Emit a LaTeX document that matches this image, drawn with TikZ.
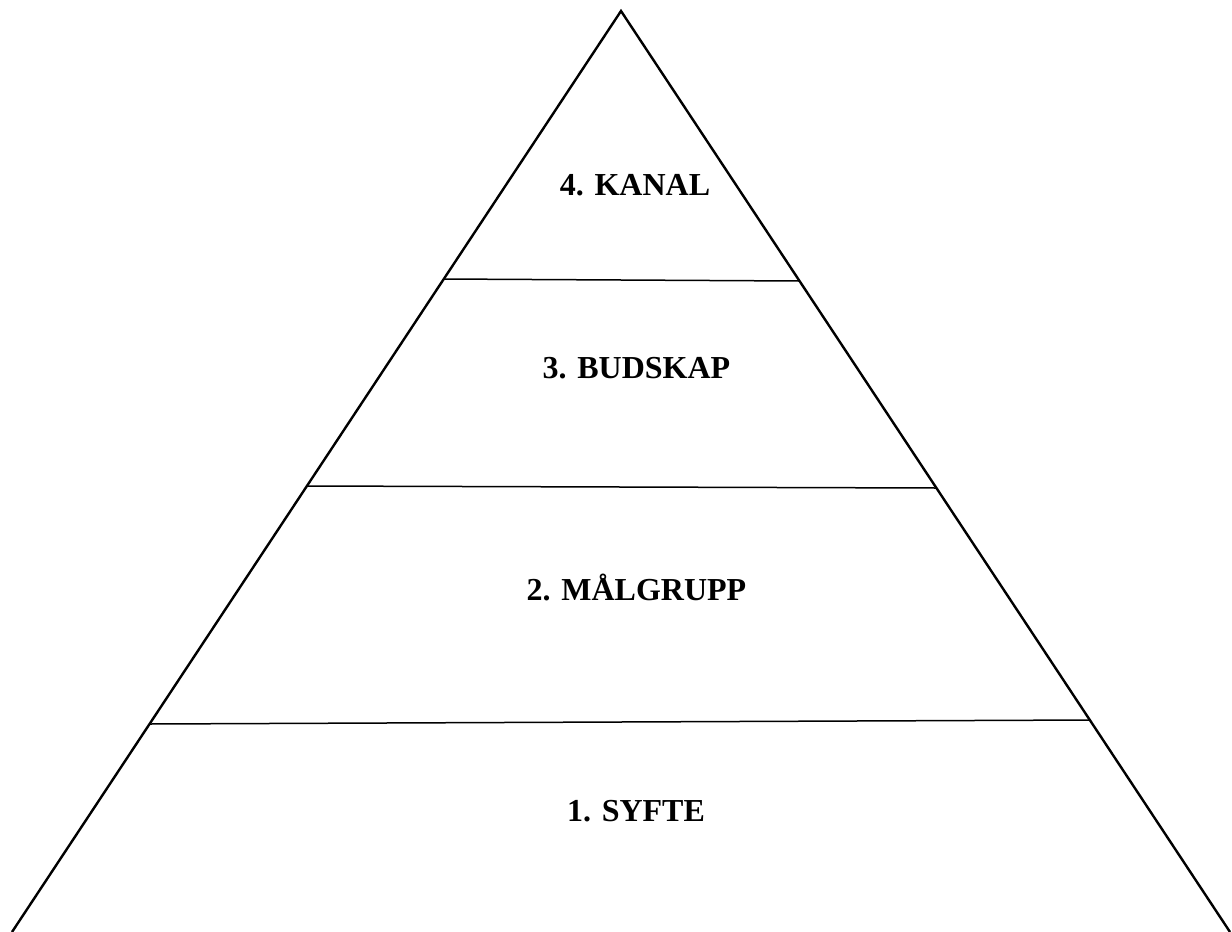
\documentclass[tikz,border=0pt]{standalone}
\usepackage{fontspec}
\setmainfont{Liberation Serif}
\usetikzlibrary{positioning}
\tikzset{
  side/.style={line width=2.4pt, black},
  divider/.style={line width=1.5pt, black},
  levellabel/.style={font=\fontsize{32}{38}\selectfont\bfseries, anchor=base, inner sep=0pt},
}

\begin{document}
\begin{tikzpicture}[x=1pt, y=-1pt] % {{{
\useasboundingbox (0,0) rectangle (1232,932);
% Pyramid {{{
\coordinate (apex) at (621,11);
\coordinate (baseL) at (12,932);
\coordinate (baseR) at (1230,932);
\draw[side] (baseL) -- (apex) -- (baseR);
% }}}
% Dividers {{{
\coordinate (d1L) at (443.8,279);  \coordinate (d1R) at (799.5,281);
\coordinate (d2L) at (307,486);    \coordinate (d2R) at (936.4,488);
\coordinate (d3L) at (149.6,724);  \coordinate (d3R) at (1089.8,720);
\foreach \i in {1,2,3} {
  \draw[divider] (d\i L) -- (d\i R);
}
% }}}
% Levels {{{
\node[levellabel] (kanal) at (635,195) {4. KANAL};
\node[levellabel] (budskap) at (636.5,378) {3. BUDSKAP};
\node[levellabel] (malgrupp) at (636.5,600) {2. MÅLGRUPP};
\node[levellabel] (syfte) at (636,821) {1. SYFTE};
% }}}
\end{tikzpicture} % }}}
\end{document}
